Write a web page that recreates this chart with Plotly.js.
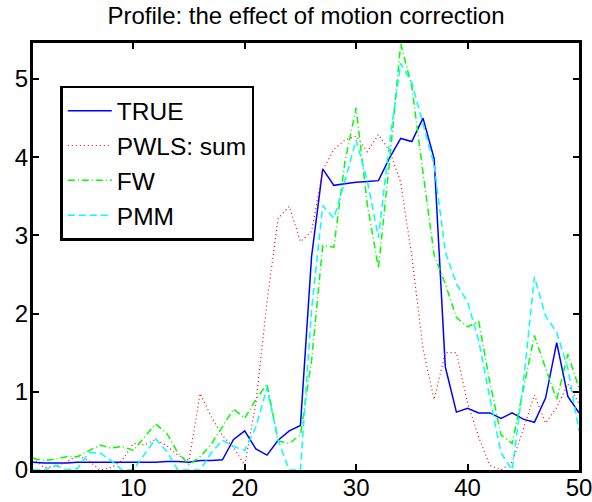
<!DOCTYPE html>
<html>
<head>
<meta charset="utf-8">
<script src="https://cdn.plot.ly/plotly-3.0.1.min.js"></script>
<style>
html, body { margin: 0; padding: 0; background: #fff; }
#chart { width: 592px; height: 502px; }
</style>
</head>
<body>
<div id="chart"></div>
<script>
var xIndex = [1,2,3,4,5,6,7,8,9,10,11,12,13,14,15,16,17,18,19,20,21,22,23,24,25,26,27,28,29,30,31,32,33,34,35,36,37,38,39,40,41,42,43,44,45,46,47,48,49,50];

var trueProfile = [0.10,0.09,0.09,0.09,0.10,0.10,0.10,0.10,0.10,0.10,
                   0.10,0.10,0.11,0.11,0.10,0.12,0.12,0.13,0.39,0.50,
                   0.27,0.19,0.38,0.50,0.57,2.73,3.85,3.64,3.66,3.68,
                   3.69,3.70,3.99,4.24,4.20,4.50,3.98,1.32,0.74,0.79,
                   0.73,0.73,0.66,0.73,0.65,0.61,0.92,1.63,0.94,0.73];

var pwlsSum = [0.15,0.03,0.05,0.10,0.19,0.12,0.00,0.03,0.12,0.34,
               0.32,0.39,0.31,0.19,0.12,0.98,0.68,0.44,0.29,0.06,
               0.85,2.15,3.22,3.37,2.92,3.05,3.83,4.10,4.22,4.27,
               4.07,4.29,4.08,3.68,2.73,1.55,0.90,1.50,1.50,0.86,
               0.42,0.06,0.00,0.10,0.52,0.96,0.60,0.80,1.10,0.85];

var fw = [0.15,0.12,0.14,0.17,0.17,0.25,0.32,0.28,0.30,0.25,
          0.42,0.59,0.47,0.22,0.07,0.17,0.33,0.55,0.78,0.66,
          0.90,1.10,0.37,0.34,0.45,1.40,2.87,2.85,3.95,4.63,
          3.40,2.58,3.95,5.45,4.90,3.80,2.75,2.38,1.95,1.83,
          1.90,1.12,0.45,0.34,1.03,1.72,1.30,0.90,1.48,1.05];

var pmm = [0.00,0.00,0.06,0.00,0.02,0.22,0.22,0.12,0.00,0.00,
           0.20,0.40,0.24,0.00,0.00,0.00,0.22,0.38,0.30,0.25,
           0.55,1.05,0.38,0.00,0.00,2.05,3.38,3.22,3.70,4.22,
           3.70,2.97,4.20,5.20,4.95,4.42,3.90,2.79,2.38,2.15,
           1.65,0.92,0.22,0.00,1.10,2.47,1.97,1.76,1.30,0.50];

var seriesNames = ['TRUE', 'PWLS: sum', 'FW', 'PMM'];
var xTicks = [10, 20, 30, 40, 50];
var yTicks = [0, 1, 2, 3, 4, 5];

var FONT = 'Liberation Sans, Arial, Helvetica, sans-serif';

var traces = [
  {x: xIndex, y: trueProfile, name: seriesNames[0], mode: 'lines',
   line: {color: '#0000ff', width: 1.5}},
  {x: xIndex, y: pwlsSum, name: seriesNames[1], mode: 'lines',
   line: {color: '#ff0000', width: 1.2, dash: '1px,3px'}},
  {x: xIndex, y: fw, name: seriesNames[2], mode: 'lines',
   line: {color: '#00ff00', width: 1.5, dash: '7px,3px,1px,3px'}},
  {x: xIndex, y: pmm, name: seriesNames[3], mode: 'lines',
   line: {color: '#00ffff', width: 1.5, dash: '7px,4px'}}
];

var axisCommon = {
  showgrid: false, zeroline: false,
  showline: true, linecolor: '#000', linewidth: 3, mirror: 'ticks',
  ticks: 'inside', ticklen: 6, tickwidth: 2, tickcolor: '#000',
  tickfont: {family: FONT, size: 24, color: '#000'}
};

var layout = {
  width: 592, height: 502,
  margin: {l: 33, r: 13, t: 43, b: 32, pad: 0},
  paper_bgcolor: '#fff', plot_bgcolor: '#fff',
  title: {text: 'Profile: the effect of motion correction',
          font: {family: FONT, size: 24, color: '#000'},
          x: 0.5, xref: 'paper', xanchor: 'center',
          y: 0.968, yref: 'container', yanchor: 'middle'},
  xaxis: Object.assign({}, axisCommon, {range: [1, 50.0005], tickmode: 'array', tickvals: xTicks,
                                        ticklabelstandoff: -6, ticklabeloverflow: 'allow'}),
  yaxis: Object.assign({}, axisCommon, {range: [0, 5.46], tickmode: 'array', tickvals: yTicks,
                                        ticklabelstandoff: -3}),
  showlegend: true,
  legend: {x: 0.05, y: 0.9, xanchor: 'left', yanchor: 'top',
           bgcolor: '#fff', bordercolor: '#000', borderwidth: 2.5,
           font: {family: FONT, size: 24.5, color: '#000'},
           traceorder: 'normal', itemwidth: 44}
};

Plotly.newPlot('chart', traces, layout, {displayModeBar: false, staticPlot: true});
</script>
</body>
</html>
